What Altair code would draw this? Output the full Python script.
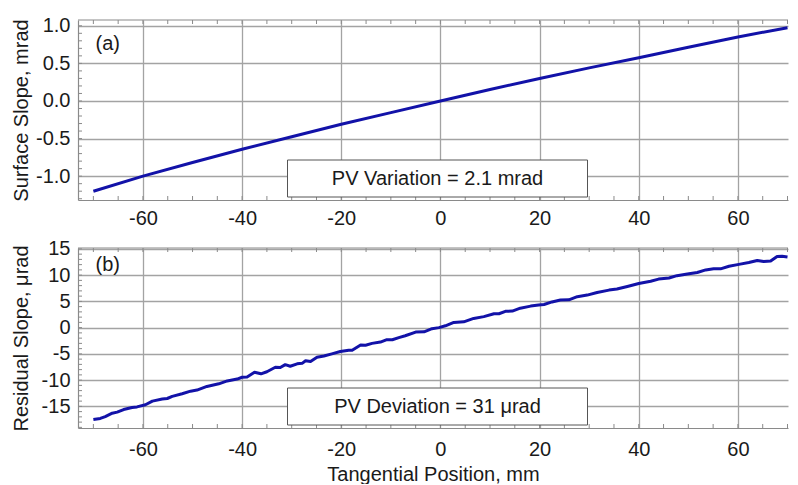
import altair as alt
import pandas as pd

# ---- data ----
x_top = [-70, -60, -50, -40, -30, -20, -10, 0, 10, 20, 30, 40, 50, 60, 70]
slope_top = [-1.20, -1.00, -0.818, -0.643, -0.475, -0.31, -0.155, 0.0, 0.152,
             0.30, 0.44, 0.576, 0.715, 0.851, 0.975]

x_res = [-70.0, -68.6, -67.6, -66.2, -65.2, -63.9, -62.2, -61.2, -59.5, -58.1,
         -56.1, -55.1, -54.1, -52.1, -50.4, -49.1, -47.1, -44.7, -43.0, -41.0,
         -40.0, -39.0, -37.5, -36.2, -35.0, -33.3, -32.3, -31.3, -30.3, -28.9,
         -27.9, -27.2, -26.2, -24.9, -23.5, -21.9, -20.2, -18.5, -17.8, -16.1,
         -15.1, -13.8, -12.1, -10.8, -9.7, -8.4, -7.1, -5.0, -3.3, -1.7,
         -0.3, 1.0, 2.7, 4.7, 6.7, 8.75, 10.8, 11.8, 13.1, 14.5,
         16.1, 18.2, 19.8, 20.9, 22.5, 24.2, 25.9, 27.6, 29.6, 31.6,
         34.0, 35.6, 37.7, 40.0, 42.4, 44.0, 46.1, 47.7, 49.8, 51.8,
         53.5, 55.1, 56.5, 58.2, 60.2, 62.2, 63.9, 65.2, 66.6, 67.9,
         68.9, 70.0]
res_slope = [-17.5, -17.3, -16.95, -16.3, -16.1, -15.6, -15.2, -15.1, -14.7, -14.0,
             -13.6, -13.5, -13.1, -12.6, -12.1, -11.9, -11.2, -10.7, -10.15, -9.8,
             -9.45, -9.4, -8.5, -8.8, -8.4, -7.55, -7.6, -7.05, -7.35, -6.9,
             -6.8, -6.3, -6.45, -5.65, -5.4, -5.0, -4.55, -4.3, -4.3, -3.3,
             -3.35, -3.0, -2.75, -2.3, -2.3, -1.9, -1.55, -0.85, -0.8, -0.2,
             0.0, 0.35, 1.0, 1.1, 1.75, 2.1, 2.65, 2.65, 3.1, 3.15,
             3.7, 4.1, 4.3, 4.4, 4.9, 5.25, 5.3, 5.9, 6.2, 6.7,
             7.15, 7.35, 7.85, 8.4, 8.85, 9.25, 9.45, 9.9, 10.2, 10.5,
             11.0, 11.2, 11.2, 11.7, 12.05, 12.4, 12.8, 12.6, 12.7, 13.55,
             13.6, 13.45]

x_major = [-60, -40, -20, 0, 20, 40, 60]
x_minor = list(range(-70, 71, 5))
y_top_major = [-1.0, -0.5, 0.0, 0.5, 1.0]
y_top_minor = [round(-1.3 + 0.1 * i, 1) for i in range(24)]
y_bot_major = [-15, -10, -5, 0, 5, 10, 15]
y_bot_minor = list(range(-19, 16))

top_title = "Surface Slope, mrad"
bot_title = "Residual Slope, \u03bcrad"
x_title = "Tangential Position, mm"
top_note = "PV Variation = 2.1 mrad"
bot_note = "PV Deviation = 31 \u03bcrad"

W, H = 710, 180
LINE = "#1212a8"
GRID = "#a3a3a3"
AXC = "#8a8a8a"
TXT = "#1a1a1a"
FONT = "Liberation Sans"

xscale = alt.Scale(domain=[-73.1, 70.1], nice=False, zero=False)
minus_fix = "replace(datum.label, '\u2212', '-')"


def xenc(title, labelpad):
    ax = dict(values=x_major, grid=True, ticks=False, labelPadding=labelpad,
              format="d", labelExpr=minus_fix)
    if title:
        ax["title"] = title
        ax["titlePadding"] = 5
    else:
        ax["title"] = None
    return alt.X("x:Q", scale=xscale, axis=alt.Axis(**ax))


def yenc(domain, title, values, fmt):
    return alt.Y("y:Q", scale=alt.Scale(domain=domain, nice=False, zero=False),
                 axis=alt.Axis(values=values, grid=True, ticks=False, labelPadding=8,
                               format=fmt, labelExpr=minus_fix, title=title,
                               minExtent=44, maxExtent=44, titlePadding=3))


one = pd.DataFrame({"k": [0]})


def panel(xs, ys, ydomain, ytitle, ymajor, yminor, fmt, label, label_y, note,
          xt, labelpad):
    X = xenc(xt, labelpad)
    Y = yenc(ydomain, ytitle, ymajor, fmt)
    df = pd.DataFrame({"x": xs, "y": ys})
    line = alt.Chart(df).mark_line(color=LINE, strokeWidth=3, strokeJoin="round",
                                   clip=True).encode(x=X, y=Y)
    xt_df = pd.DataFrame({"x": x_minor})
    yt_df = pd.DataFrame({"y": yminor})
    xt_bot = alt.Chart(xt_df).mark_rule(color=AXC, strokeWidth=1).encode(
        x=X, y=alt.value(H - 4), y2=alt.value(H))
    xt_top = alt.Chart(xt_df).mark_rule(color=AXC, strokeWidth=1).encode(
        x=X, y=alt.value(0), y2=alt.value(4))
    yt = alt.Chart(yt_df).mark_rule(color=AXC, strokeWidth=1).encode(
        y=Y, x=alt.value(0), x2=alt.value(4))
    top_border = alt.Chart(one).mark_rule(color=AXC, strokeWidth=1.2).encode(
        x=alt.value(0), x2=alt.value(W), y=alt.value(0))
    box = alt.Chart(one).mark_rect(fill="white", stroke="#555555", strokeWidth=1).encode(
        x=alt.value(209.5), x2=alt.value(509.5), y=alt.value(140), y2=alt.value(177))
    txt = alt.Chart(one).mark_text(text=note, fontSize=20, font=FONT, color=TXT,
                                   align="center", baseline="middle").encode(
        x=alt.value(359.5), y=alt.value(158.5))
    lab = alt.Chart(one).mark_text(text=label, fontSize=20, font=FONT, color=TXT,
                                   align="left", baseline="middle").encode(
        x=alt.value(17.5), y=alt.value(label_y))
    return alt.layer(line, xt_bot, xt_top, yt, top_border, box, txt, lab).properties(
        width=W, height=H)


top = panel(x_top, slope_top, [-1.317, 1.077], top_title, y_top_major, y_top_minor,
            ".1f", "(a)", 24, top_note, None, 8)
bottom = panel(x_res, res_slope, [-19.12, 15.17], bot_title, y_bot_major, y_bot_minor,
               "d", "(b)", 17, bot_note, x_title, 11)

chart = alt.vconcat(top, bottom, spacing=10).properties(
    padding={"left": 3, "top": 7, "right": 0, "bottom": 0}
).configure(font=FONT).configure_view(stroke=None).configure_axis(
    labelFont=FONT, titleFont=FONT, labelFontSize=20, titleFontSize=20,
    labelColor=TXT, titleColor=TXT, titleFontWeight="normal",
    gridColor=GRID, gridWidth=1.3, domainColor=AXC, domainWidth=1.2,
    labelFlush=False
)

chart.save("out.html", embed_options={"renderer": "svg", "actions": False})
